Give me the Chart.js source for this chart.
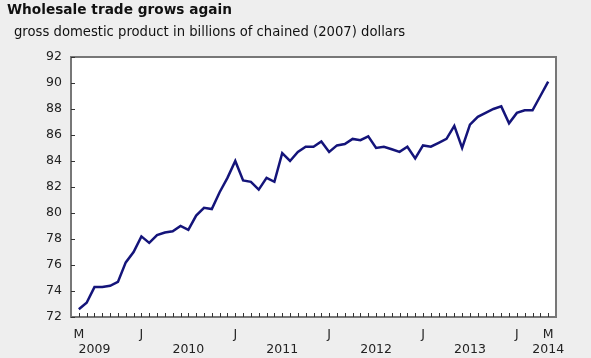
<!DOCTYPE html>
<html>
<head>
<meta charset="utf-8">
<script src="https://cdn.jsdelivr.net/npm/chart.js@4/dist/chart.umd.min.js"></script>
<style>
  html, body { margin: 0; padding: 0; background: #eeeeee; }
  #wrap { position: relative; width: 591px; height: 358px; }
  #title { position: absolute; left: 7px; top: 1px; font: bold 13.7px "DejaVu Sans", sans-serif; color: #111; }
  #sub { position: absolute; left: 14px; top: 24px; font: 13.2px "DejaVu Sans", sans-serif; color: #111; }
  canvas { position: absolute; left: 0; top: 0; }
</style>
</head>
<body>
<div id="wrap">
  <canvas id="gdpChart" width="591" height="358"></canvas>
  <div id="title">Wholesale trade grows again</div>
  <div id="sub">gross domestic product in billions of chained (2007) dollars</div>
</div>
<script>
// monthly, May 2009 to May 2014
const months = [];
for (let y = 2009; y <= 2014; y++) {
    for (let m = 1; m <= 12; m++) {
        if ((y === 2009 && m < 5) || (y === 2014 && m > 5)) continue;
        months.push(y + '-' + String(m).padStart(2, '0'));
    }
}

const gdp = [
    72.6, 73.1, 74.3, 74.3, 74.4, 74.7, 76.2, 77.0,
    78.2, 77.7, 78.3, 78.5, 78.6, 79.0, 78.7, 79.8, 80.4, 80.3, 81.6, 82.7,
    84.0, 82.5, 82.4, 81.8, 82.7, 82.4, 84.6, 84.0, 84.7, 85.1, 85.1, 85.5,
    84.7, 85.2, 85.3, 85.7, 85.6, 85.9, 85.0, 85.1, 84.9, 84.7, 85.1, 84.2,
    85.2, 85.1, 85.4, 85.7, 86.7, 85.0, 86.8, 87.4, 87.7, 88.0, 88.2, 86.9,
    87.7, 87.9, 87.9, 89.0, 90.1
];

// x tick labels (index into months) and year labels
const monthTickIdx = [0, 8, 20, 32, 44, 56, 60];
const monthTickText = ['M', 'J', 'J', 'J', 'J', 'J', 'M'];
const yearText = ['2009', '2010', '2011', '2012', '2013', '2014'];
const yearPos = [2, 14, 26, 38, 50, 60];

const yMin = 72, yMax = 92, yStep = 2;

const frame = {
    id: 'frame',
    beforeDraw(chart) {
        const { ctx, chartArea: a } = chart;
        ctx.save();
        ctx.fillStyle = '#ffffff';
        ctx.fillRect(a.left, a.top, a.right - a.left, a.bottom - a.top);
        ctx.restore();
    },
    afterDraw(chart) {
        const { ctx, chartArea: a, scales } = chart;
        ctx.save();
        ctx.strokeStyle = '#777777';
        ctx.lineWidth = 2;
        ctx.strokeRect(a.left, a.top, a.right - a.left, a.bottom - a.top);
        // inner tick marks
        ctx.lineWidth = 1;
        ctx.strokeStyle = '#333333';
        ctx.beginPath();
        for (let i = 0; i < months.length; i++) {
            const x = Math.round(scales.x.getPixelForValue(i)) + 0.5;
            ctx.moveTo(x, a.bottom);
            ctx.lineTo(x, a.bottom - 4);
        }
        for (let v = yMin; v <= yMax; v += yStep) {
            const y = Math.round(scales.y.getPixelForValue(v)) + 0.5;
            ctx.moveTo(a.left, y);
            ctx.lineTo(a.left + 4, y);
        }
        ctx.stroke();
        // x labels
        ctx.fillStyle = '#222222';
        ctx.font = '12.5px "DejaVu Sans", sans-serif';
        ctx.textAlign = 'center';
        ctx.textBaseline = 'middle';
        monthTickIdx.forEach((idx, k) => {
            ctx.fillText(monthTickText[k], scales.x.getPixelForValue(idx), a.bottom + 18);
        });
        yearText.forEach((t, k) => {
            ctx.fillText(t, scales.x.getPixelForValue(yearPos[k]), a.bottom + 33);
        });
        ctx.restore();
    }
};

const ctx = document.getElementById('gdpChart').getContext('2d');

new Chart(ctx, {
    type: 'line',
    data: {
        labels: months,
        datasets: [{
            label: 'GDP',
            data: gdp.map((v, i) => ({ x: i, y: v })),
            borderColor: '#14147a',
            borderWidth: 2.5,
            pointRadius: 0,
            fill: false,
            tension: 0
        }]
    },
    options: {
        responsive: false,
        animation: false,
        layout: { padding: { top: 57, right: 35, left: 0, bottom: 0 } },
        plugins: {
            legend: { display: false },
            tooltip: { enabled: false }
        },
        scales: {
            x: {
                type: 'linear',
                min: -1,
                max: 61,
                ticks: { display: false },
                grid: { display: false },
                border: { display: false },
                afterFit(scale) { scale.height = 41; }
            },
            y: {
                min: yMin,
                max: yMax,
                ticks: {
                    stepSize: yStep,
                    color: '#222222',
                    padding: 9,
                    font: { family: 'DejaVu Sans', size: 12.5 }
                },
                grid: { display: false, drawTicks: false },
                border: { display: false },
                afterFit(scale) { scale.width = 71; }
            }
        }
    },
    plugins: [frame]
});
</script>
</body>
</html>
